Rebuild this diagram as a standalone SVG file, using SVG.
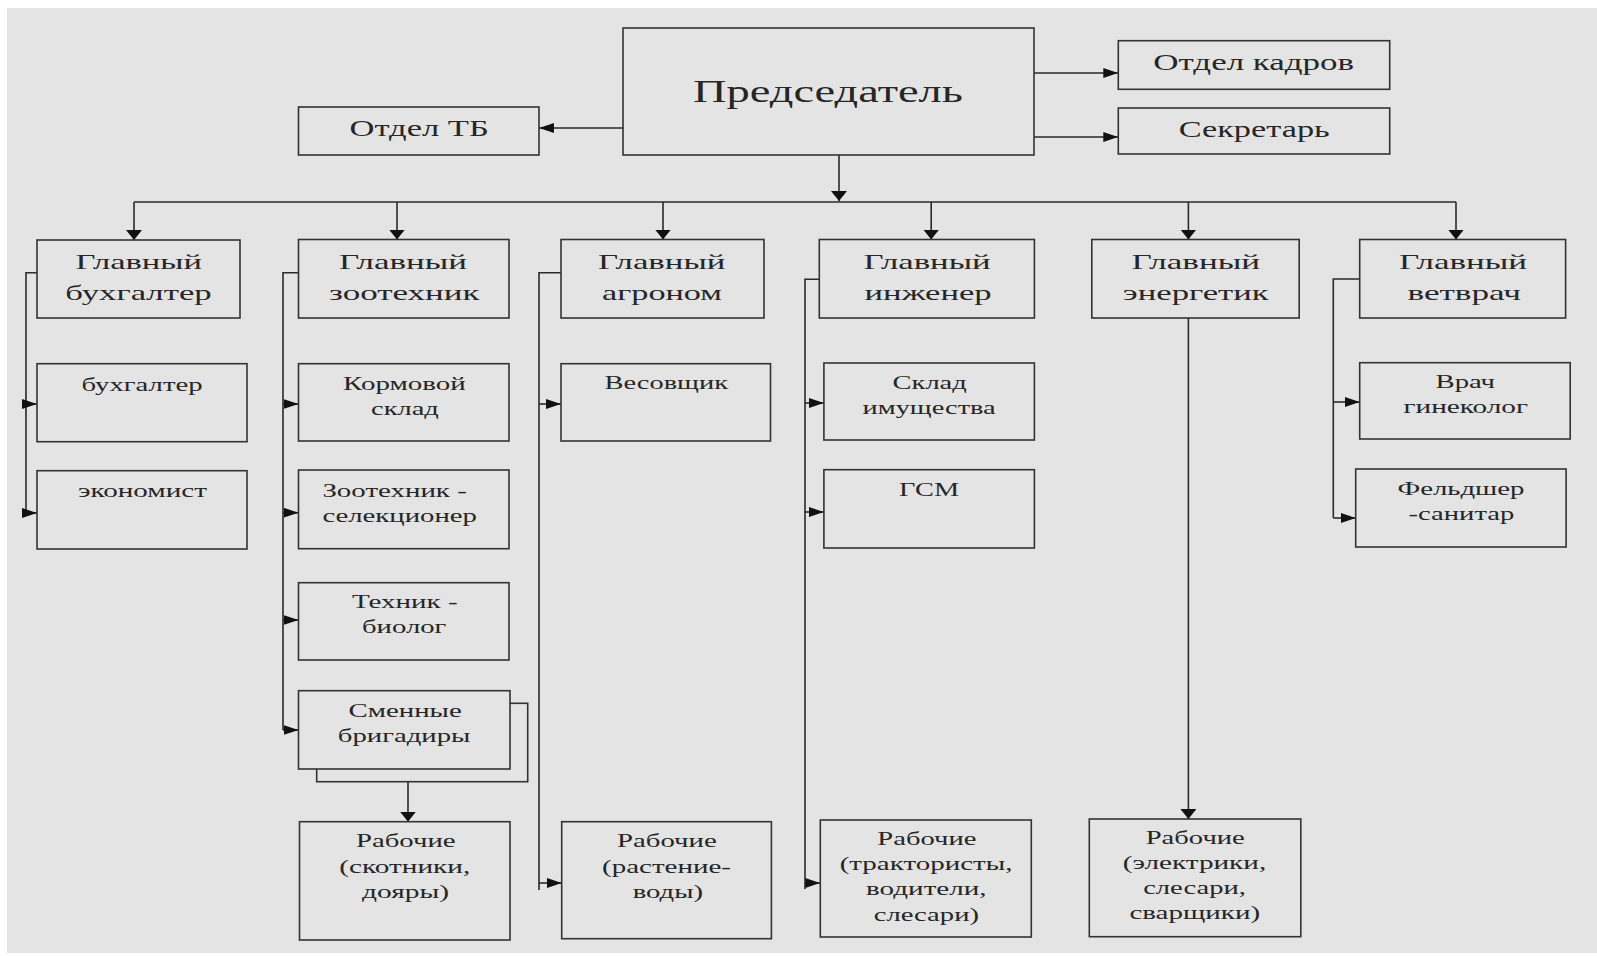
<svg xmlns="http://www.w3.org/2000/svg" width="1597" height="956" viewBox="0 0 1597 956">
<style>
.bx{fill:#e4e4e4;stroke:#333;stroke-width:1.6}
.ln{fill:none;stroke:#2a2a2a;stroke-width:1.6}
text{font-family:"Liberation Serif","Times New Roman",serif;fill:#262626}
.t1{font-size:31px}
.t2{font-size:23px}
.t3{font-size:22px}
.t4{font-size:19px}
</style>
<defs>
<marker id="ah" markerUnits="userSpaceOnUse" markerWidth="15" markerHeight="10" refX="15" refY="5" orient="auto"><path d="M0,0 L15,5 L0,10 Z" fill="#111"/></marker>
<marker id="av" markerUnits="userSpaceOnUse" markerWidth="10" markerHeight="16" refX="10" refY="8" orient="auto"><path d="M0,0 L10,8 L0,16 Z" fill="#111"/></marker>
</defs>
<rect x="0" y="0" width="1597" height="956" fill="#ffffff"/>
<rect x="7" y="8" width="1590" height="945" fill="#e4e4e4"/>

<g id="connectors">
<line class="ln" x1="623" y1="128" x2="539" y2="128" marker-end="url(#ah)"/>
<line class="ln" x1="1034" y1="73" x2="1118.3" y2="73" marker-end="url(#ah)"/>
<line class="ln" x1="1034" y1="137" x2="1118.3" y2="137" marker-end="url(#ah)"/>
<line class="ln" x1="839" y1="155" x2="839" y2="201" marker-end="url(#av)"/>
<line class="ln" x1="134" y1="202" x2="1456" y2="202"/>
<line class="ln" x1="134" y1="202" x2="134" y2="240" marker-end="url(#av)"/>
<line class="ln" x1="397" y1="202" x2="397" y2="239.5" marker-end="url(#av)"/>
<line class="ln" x1="663" y1="202" x2="663" y2="239.5" marker-end="url(#av)"/>
<line class="ln" x1="931.2" y1="202" x2="931.2" y2="239.5" marker-end="url(#av)"/>
<line class="ln" x1="1188.4" y1="202" x2="1188.4" y2="239.5" marker-end="url(#av)"/>
<line class="ln" x1="1456" y1="202" x2="1456" y2="239.5" marker-end="url(#av)"/>
<!-- column 1 -->
<polyline class="ln" points="43,272.7 26,272.7 26,513"/>
<line class="ln" x1="26" y1="404" x2="37" y2="404" marker-end="url(#ah)"/>
<line class="ln" x1="26" y1="513" x2="37" y2="513" marker-end="url(#ah)"/>
<!-- column 2 -->
<polyline class="ln" points="303,272.7 283,272.7 283,730"/>
<line class="ln" x1="283" y1="404" x2="298.5" y2="404" marker-end="url(#ah)"/>
<line class="ln" x1="283" y1="512.7" x2="298.5" y2="512.7" marker-end="url(#ah)"/>
<line class="ln" x1="283" y1="620" x2="298.5" y2="620" marker-end="url(#ah)"/>
<line class="ln" x1="283" y1="730" x2="298.5" y2="730" marker-end="url(#ah)"/>
<line class="ln" x1="408" y1="769" x2="408" y2="821.7" marker-end="url(#av)"/>
<!-- column 3 -->
<polyline class="ln" points="562,272.7 539,272.7 539,890"/>
<line class="ln" x1="539" y1="404" x2="561" y2="404" marker-end="url(#ah)"/>
<line class="ln" x1="539" y1="883" x2="561.7" y2="883" marker-end="url(#ah)"/>
<!-- column 4 -->
<polyline class="ln" points="820.3,279.3 805,279.3 805,889"/>
<line class="ln" x1="805" y1="403" x2="823.9" y2="403" marker-end="url(#ah)"/>
<line class="ln" x1="805" y1="512" x2="823.9" y2="512" marker-end="url(#ah)"/>
<line class="ln" x1="805" y1="883" x2="820.3" y2="883" marker-end="url(#ah)"/>
<!-- column 5 -->
<line class="ln" x1="1188.4" y1="318" x2="1188.4" y2="819" marker-end="url(#av)"/>
<!-- column 6 -->
<polyline class="ln" points="1361.8,279 1333.3,279 1333.3,518"/>
<line class="ln" x1="1333.3" y1="402" x2="1359.7" y2="402" marker-end="url(#ah)"/>
<line class="ln" x1="1333.3" y1="518" x2="1355.7" y2="518" marker-end="url(#ah)"/>
</g>

<g id="n-chair"><rect class="bx" x="623" y="28" width="411" height="127"/>
<text class="t1" x="693" y="101.7" textLength="270" lengthAdjust="spacingAndGlyphs">Председатель</text></g>
<g id="n-tb"><rect class="bx" x="298.5" y="107" width="240.5" height="48"/>
<text class="t2" x="349.5" y="136" textLength="139.3" lengthAdjust="spacingAndGlyphs">Отдел ТБ</text></g>
<g id="n-kadry"><rect class="bx" x="1118.3" y="40.7" width="271.4" height="48.6"/>
<text class="t2" x="1153.3" y="70" textLength="200.8" lengthAdjust="spacingAndGlyphs">Отдел кадров</text></g>
<g id="n-secr"><rect class="bx" x="1118.3" y="108" width="271.4" height="46"/>
<text class="t2" x="1178.7" y="137.3" textLength="151" lengthAdjust="spacingAndGlyphs">Секретарь</text></g>

<g id="n-gl-buh"><rect class="bx" x="37" y="240" width="203" height="78"/>
<text class="t3" x="75.5" y="269.3" textLength="126.5" lengthAdjust="spacingAndGlyphs">Главный</text>
<text class="t3" x="65.3" y="300" textLength="146.4" lengthAdjust="spacingAndGlyphs">бухгалтер</text></g>
<g id="n-gl-zoo"><rect class="bx" x="298.5" y="239.5" width="210.5" height="78.5"/>
<text class="t3" x="339" y="269.3" textLength="128" lengthAdjust="spacingAndGlyphs">Главный</text>
<text class="t3" x="329" y="300" textLength="150.6" lengthAdjust="spacingAndGlyphs">зоотехник</text></g>
<g id="n-gl-agr"><rect class="bx" x="561" y="239.5" width="203" height="78.5"/>
<text class="t3" x="598" y="269.3" textLength="127.5" lengthAdjust="spacingAndGlyphs">Главный</text>
<text class="t3" x="602" y="300" textLength="120" lengthAdjust="spacingAndGlyphs">агроном</text></g>
<g id="n-gl-ing"><rect class="bx" x="819.3" y="239.5" width="215.1" height="78.5"/>
<text class="t3" x="863.5" y="269.3" textLength="127.1" lengthAdjust="spacingAndGlyphs">Главный</text>
<text class="t3" x="864.6" y="300" textLength="127.1" lengthAdjust="spacingAndGlyphs">инженер</text></g>
<g id="n-gl-en"><rect class="bx" x="1091.8" y="239.5" width="207.4" height="78.5"/>
<text class="t3" x="1131.5" y="269.3" textLength="128.6" lengthAdjust="spacingAndGlyphs">Главный</text>
<text class="t3" x="1122.8" y="300" textLength="145.9" lengthAdjust="spacingAndGlyphs">энергетик</text></g>
<g id="n-gl-vet"><rect class="bx" x="1359.7" y="239.5" width="205.9" height="78.5"/>
<text class="t3" x="1398.9" y="269.3" textLength="128.1" lengthAdjust="spacingAndGlyphs">Главный</text>
<text class="t3" x="1407.5" y="300" textLength="113.4" lengthAdjust="spacingAndGlyphs">ветврач</text></g>

<g id="n-buh"><rect class="bx" x="37" y="363.7" width="210" height="78"/>
<text class="t4" x="81.6" y="390.7" textLength="121" lengthAdjust="spacingAndGlyphs">бухгалтер</text></g>
<g id="n-econ"><rect class="bx" x="37" y="470.7" width="210" height="78.3"/>
<text class="t4" x="78" y="497.3" textLength="129" lengthAdjust="spacingAndGlyphs">экономист</text></g>

<g id="n-korm"><rect class="bx" x="298.5" y="363.7" width="210.5" height="77.3"/>
<text class="t4" x="343" y="390" textLength="122.8" lengthAdjust="spacingAndGlyphs">Кормовой</text>
<text class="t4" x="371" y="415" textLength="67.8" lengthAdjust="spacingAndGlyphs">склад</text></g>
<g id="n-sel"><rect class="bx" x="298.5" y="470" width="210.5" height="78.7"/>
<text class="t4" x="322.4" y="496.7" textLength="144.4" lengthAdjust="spacingAndGlyphs">Зоотехник -</text>
<text class="t4" x="322.4" y="521.7" textLength="154.6" lengthAdjust="spacingAndGlyphs">селекционер</text></g>
<g id="n-bio"><rect class="bx" x="298.5" y="582.7" width="210.5" height="77.3"/>
<text class="t4" x="352" y="608.3" textLength="105.6" lengthAdjust="spacingAndGlyphs">Техник -</text>
<text class="t4" x="362" y="633.3" textLength="84.4" lengthAdjust="spacingAndGlyphs">биолог</text></g>
<g id="n-brig"><rect class="bx" x="316.7" y="703.3" width="211" height="78.4"/>
<rect class="bx" x="298.5" y="690.7" width="211.5" height="78.3"/>
<text class="t4" x="348.5" y="717.3" textLength="113.2" lengthAdjust="spacingAndGlyphs">Сменные</text>
<text class="t4" x="337.8" y="741.7" textLength="132.6" lengthAdjust="spacingAndGlyphs">бригадиры</text></g>
<g id="n-rab-skot"><rect class="bx" x="299.5" y="821.7" width="210.5" height="118.3"/>
<text class="t4" x="356" y="847.3" textLength="99.6" lengthAdjust="spacingAndGlyphs">Рабочие</text>
<text class="t4" x="339.3" y="872.7" textLength="131" lengthAdjust="spacingAndGlyphs">(скотники,</text>
<text class="t4" x="362" y="897.7" textLength="87" lengthAdjust="spacingAndGlyphs">дояры)</text></g>

<g id="n-ves"><rect class="bx" x="561" y="363.7" width="209.5" height="77.3"/>
<text class="t4" x="604.6" y="389.3" textLength="123.4" lengthAdjust="spacingAndGlyphs">Весовщик</text></g>
<g id="n-rab-rast"><rect class="bx" x="561.7" y="821.7" width="209.7" height="117"/>
<text class="t4" x="617" y="847.3" textLength="99.8" lengthAdjust="spacingAndGlyphs">Рабочие</text>
<text class="t4" x="602" y="872.7" textLength="129" lengthAdjust="spacingAndGlyphs">(растение-</text>
<text class="t4" x="632.7" y="897.7" textLength="70.3" lengthAdjust="spacingAndGlyphs">воды)</text></g>

<g id="n-sklad"><rect class="bx" x="823.9" y="363" width="210.5" height="77"/>
<text class="t4" x="892.5" y="389" textLength="74.3" lengthAdjust="spacingAndGlyphs">Склад</text>
<text class="t4" x="862.5" y="414" textLength="133.2" lengthAdjust="spacingAndGlyphs">имущества</text></g>
<g id="n-gsm"><rect class="bx" x="823.9" y="469.7" width="210.5" height="78.3"/>
<text class="t4" x="899.1" y="495.7" textLength="60" lengthAdjust="spacingAndGlyphs">ГСМ</text></g>
<g id="n-rab-trak"><rect class="bx" x="820.3" y="820" width="211" height="117"/>
<text class="t4" x="877.3" y="845" textLength="99.1" lengthAdjust="spacingAndGlyphs">Рабочие</text>
<text class="t4" x="839.7" y="870" textLength="172.8" lengthAdjust="spacingAndGlyphs">(трактористы,</text>
<text class="t4" x="866.1" y="895" textLength="120.5" lengthAdjust="spacingAndGlyphs">водители,</text>
<text class="t4" x="873.7" y="920.7" textLength="105.3" lengthAdjust="spacingAndGlyphs">слесари)</text></g>

<g id="n-rab-el"><rect class="bx" x="1089.3" y="819" width="211.5" height="117.7"/>
<text class="t4" x="1145.7" y="844" textLength="99.1" lengthAdjust="spacingAndGlyphs">Рабочие</text>
<text class="t4" x="1122.8" y="869" textLength="143.4" lengthAdjust="spacingAndGlyphs">(электрики,</text>
<text class="t4" x="1143.2" y="894.3" textLength="102.7" lengthAdjust="spacingAndGlyphs">слесари,</text>
<text class="t4" x="1129.4" y="919.3" textLength="130.7" lengthAdjust="spacingAndGlyphs">сварщики)</text></g>

<g id="n-vrach"><rect class="bx" x="1359.7" y="362.7" width="210.5" height="76.3"/>
<text class="t4" x="1435.5" y="388.3" textLength="59.5" lengthAdjust="spacingAndGlyphs">Врач</text>
<text class="t4" x="1403.5" y="413.3" textLength="124.5" lengthAdjust="spacingAndGlyphs">гинеколог</text></g>
<g id="n-feld"><rect class="bx" x="1355.7" y="469" width="210.4" height="78"/>
<text class="t4" x="1397.4" y="495" textLength="127.1" lengthAdjust="spacingAndGlyphs">Фельдшер</text>
<text class="t4" x="1408.5" y="520" textLength="105.8" lengthAdjust="spacingAndGlyphs">-санитар</text></g>
</svg>
